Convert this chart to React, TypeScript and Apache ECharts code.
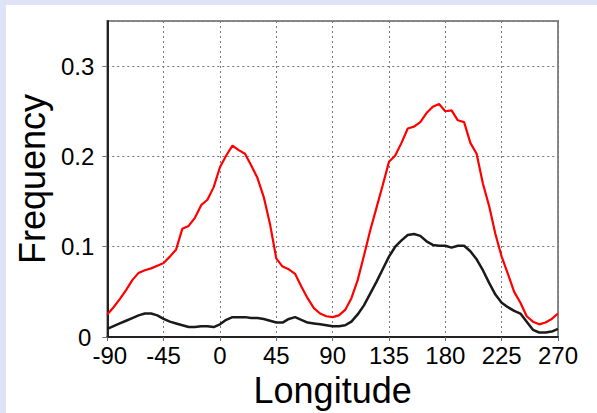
import React, { useEffect, useRef } from "react";
import * as echarts from "echarts";

const longitudes: number[] = [];
for (let lon = -90; lon <= 270; lon += 5) longitudes.push(lon);

const redValues = [
  0.025, 0.033, 0.042, 0.052, 0.063, 0.071, 0.074, 0.076, 0.079, 0.082,
  0.089, 0.097, 0.120, 0.123, 0.132, 0.146, 0.152, 0.166, 0.188, 0.201,
  0.212, 0.207, 0.203, 0.190, 0.176, 0.155, 0.125, 0.087, 0.078, 0.075,
  0.070, 0.056, 0.043, 0.032, 0.026, 0.023, 0.022, 0.024, 0.030, 0.043,
  0.063, 0.090, 0.118, 0.143, 0.168, 0.194, 0.201, 0.215, 0.231, 0.233,
  0.238, 0.248, 0.255, 0.258, 0.250, 0.251, 0.240, 0.238, 0.215, 0.203,
  0.170, 0.145, 0.114, 0.089, 0.070, 0.050, 0.038, 0.023, 0.017, 0.014,
  0.016, 0.020, 0.026,
];

const blackValues = [
  0.009, 0.012, 0.015, 0.018, 0.021, 0.024, 0.026, 0.026, 0.024, 0.020,
  0.017, 0.015, 0.013, 0.011, 0.011, 0.012, 0.012, 0.011, 0.014, 0.019,
  0.022, 0.022, 0.022, 0.021, 0.021, 0.020, 0.018, 0.016, 0.016, 0.020,
  0.022, 0.019, 0.016, 0.015, 0.014, 0.013, 0.012, 0.012, 0.013, 0.017,
  0.025, 0.035, 0.048, 0.061, 0.075, 0.089, 0.100, 0.107, 0.113, 0.114,
  0.112, 0.106, 0.102, 0.101, 0.101, 0.099, 0.101, 0.101, 0.095, 0.086,
  0.074, 0.060, 0.047, 0.038, 0.033, 0.029, 0.026, 0.017, 0.008, 0.005,
  0.005, 0.006, 0.009,
];

const xTicks = [-90, -45, 0, 45, 90, 135, 180, 225, 270];
const yTicks = [0, 0.1, 0.2, 0.3];

export default function App() {
  const ref = useRef<HTMLDivElement>(null);
  useEffect(() => {
    if (!ref.current) return;
    const chart = echarts.init(ref.current, undefined, { renderer: "svg" });
    const font = "'Liberation Sans', Arial, Helvetica, sans-serif";
    const labelStyle = { fontFamily: font, fontSize: 24, color: "#000" };
    chart.setOption({
      animation: false,
      backgroundColor: "#ffffff",
      grid: {
        left: 97,
        top: 16,
        right: 39,
        bottom: 70,
        show: true,
        borderColor: "#8a8a8a",
        borderWidth: 2,
      },
      xAxis: {
        type: "value",
        min: xTicks[0],
        max: xTicks[xTicks.length - 1],
        interval: 45,
        name: "Longitude",
        nameLocation: "middle",
        nameGap: 35,
        nameTextStyle: { fontFamily: font, fontSize: 36, color: "#000" },
        axisLine: { show: true, onZero: false, lineStyle: { color: "#222", width: 2 } },
        axisTick: { show: true, length: 4, lineStyle: { color: "#666" } },
        axisLabel: {
          ...labelStyle,
          lineHeight: 18,
          margin: 9,
          formatter: (v: number) => (v === xTicks[0] ? "{first|" + v + "}" : String(v)),
          rich: {
            first: { ...labelStyle, lineHeight: 18, padding: [0, 0, 0, 5] },
          },
        },
        splitLine: { show: true, lineStyle: { color: "#777", type: [2, 3], width: 1 } },
      },
      yAxis: {
        type: "value",
        min: 0,
        max: 0.35,
        interval: 0.1,
        name: "Frequency",
        nameLocation: "middle",
        nameGap: 44,
        nameRotate: 90,
        nameTextStyle: { fontFamily: font, fontSize: 36, color: "#000" },
        axisLine: { show: true, onZero: false, lineStyle: { color: "#222", width: 2 } },
        axisTick: { show: true, length: 5, lineStyle: { color: "#777" } },
        axisLabel: {
          ...labelStyle,
          lineHeight: 16,
          margin: 13,
          showMaxLabel: false,
          formatter: (v: number) => {
            const r = Math.round(v * 10) / 10;
            if (yTicks.indexOf(r) < 0 || Math.abs(v - 0.35) < 1e-6) return "";
            return v === 0 ? "{zero|0}" : v.toFixed(1);
          },
          rich: {
            zero: { ...labelStyle, lineHeight: 16, padding: [0, 3, 0, 0] },
          },
        },
        splitLine: { show: true, lineStyle: { color: "#777", type: [2, 3], width: 1 } },
      },
      series: [
        {
          type: "line",
          data: longitudes.map((x, i) => [x, redValues[i]]),
          showSymbol: false,
          lineStyle: { color: "#ff0000", width: 2.2 },
          z: 3,
        },
        {
          type: "line",
          data: longitudes.map((x, i) => [x, blackValues[i]]),
          showSymbol: false,
          lineStyle: { color: "#1a1a1a", width: 2.5 },
          z: 4,
        },
      ],
    });
    return () => chart.dispose();
  }, []);
  return (
    <div style={{ position: "fixed", left: 0, top: 0, width: 597, height: 413, background: "#dfe3f7" }}>
      <div ref={ref} style={{ position: "absolute", left: 6, top: 5, width: 591, height: 408 }} />
    </div>
  );
}
